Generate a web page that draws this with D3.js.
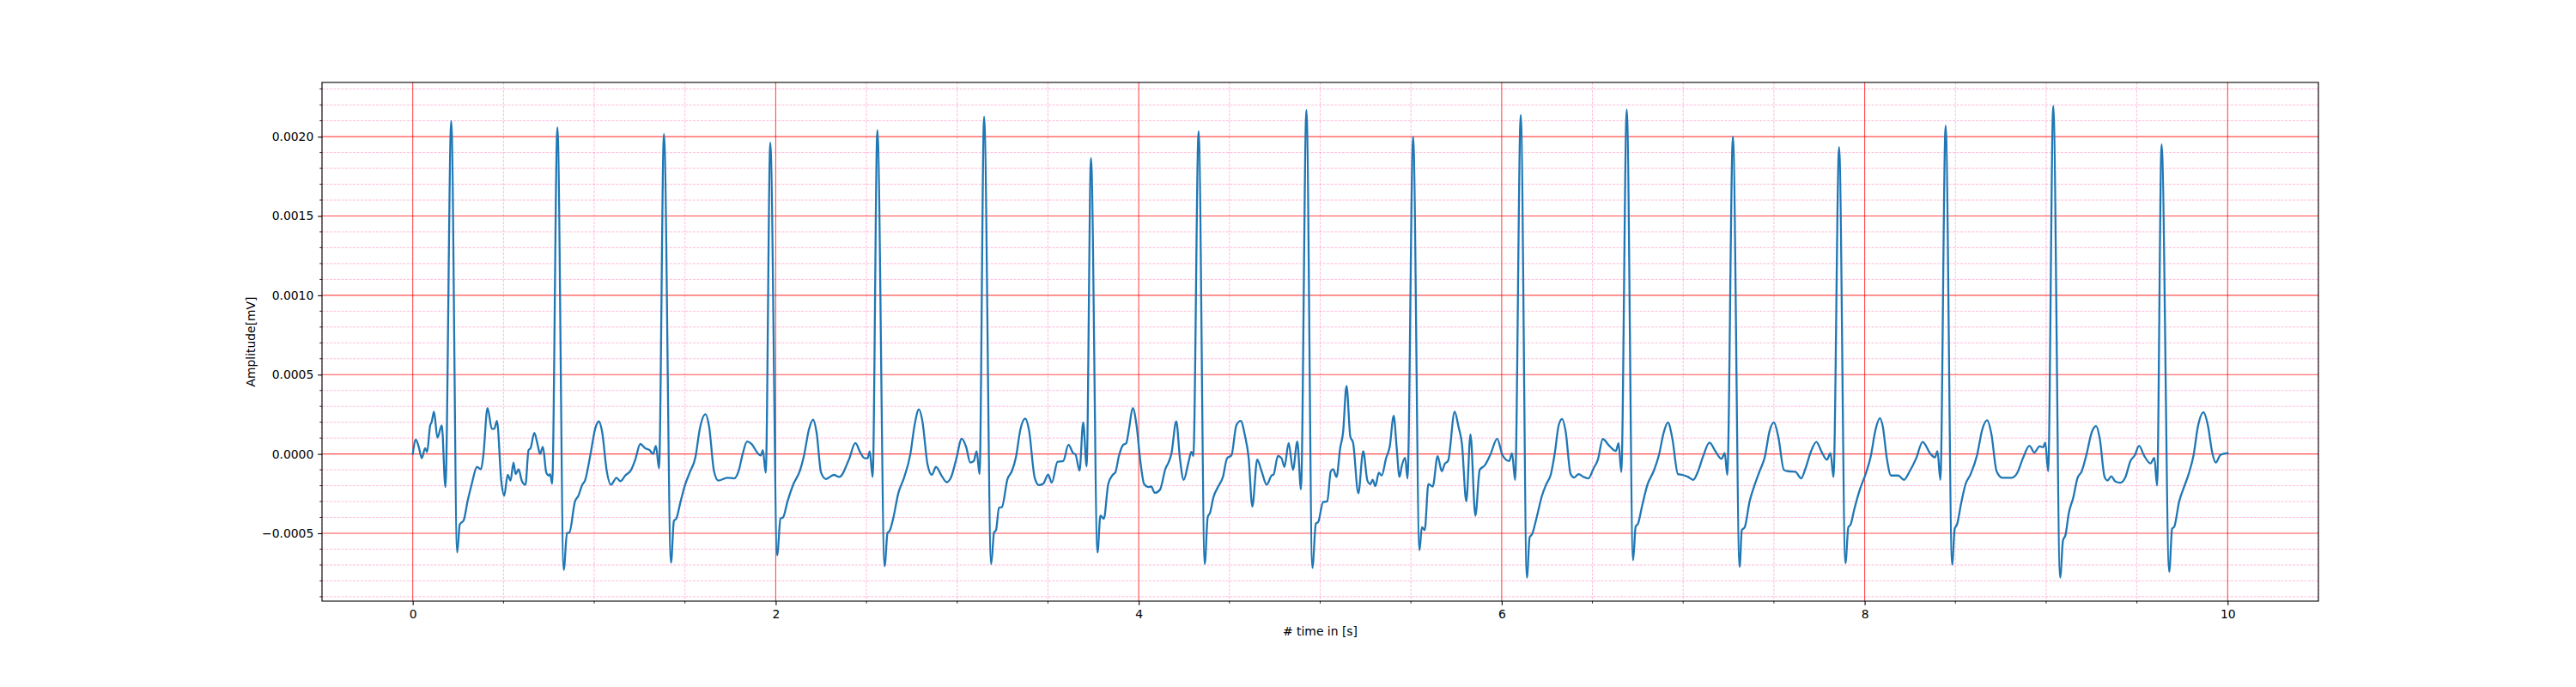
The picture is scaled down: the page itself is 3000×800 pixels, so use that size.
<!DOCTYPE html>
<html>
<head>
<meta charset="utf-8">
<script src="https://cdn.jsdelivr.net/npm/d3@7"></script>
<style>
  html, body { margin: 0; padding: 0; background: #ffffff; }
  svg { display: block; }
  text { font-family: "DejaVu Sans", sans-serif; }
</style>
</head>
<body>
<svg id="chart" width="3000" height="800"></svg>
<script>
// ---- data ----
const timeSec = [
  0.000,0.017,0.033,0.050,0.068,0.079,0.096,0.104,0.117,0.136,0.160,0.180,
  0.212,0.245,0.259,0.281,0.302,0.325,0.354,0.376,0.389,0.412,0.436,0.449,0.464,0.488,0.504,0.523,0.539,0.555,0.567,0.583,0.602,0.621,0.638,0.649,0.670,0.689,0.701,0.717,0.736,0.749,0.757,0.768,
  0.797,0.832,0.850,0.863,0.894,0.913,0.934,0.949,0.981,1.005,1.025,1.044,1.068,1.092,1.123,1.144,1.171,1.202,1.226,1.254,1.281,1.305,1.324,1.340,1.357,
  1.384,1.423,1.439,1.452,1.476,1.502,1.526,1.558,1.581,1.613,1.633,1.660,1.684,1.732,1.771,1.795,1.818,1.842,1.866,1.905,1.918,1.929,1.945,
  1.970,2.008,2.026,2.041,2.065,2.096,2.135,2.156,2.183,2.206,2.225,2.250,2.277,2.320,2.351,2.403,2.439,2.466,2.490,2.506,2.518,2.534,
  2.560,2.600,2.616,2.628,2.647,2.676,2.707,2.742,2.765,2.789,2.808,2.836,2.860,2.883,2.915,2.942,2.965,2.994,3.025,3.049,3.072,3.091,3.107,3.123,
  3.148,3.187,3.203,3.214,3.230,3.246,3.277,3.301,3.324,3.348,3.375,3.395,3.427,3.450,3.474,3.501,3.521,3.553,3.584,3.613,3.639,3.652,3.674,3.694,3.713,
  3.737,3.773,3.789,3.808,3.832,3.857,3.872,3.891,3.915,3.931,3.946,3.967,3.989,4.009,4.030,4.054,4.069,4.088,4.117,4.148,4.164,4.180,4.207,4.227,4.248,4.274,4.290,4.301,
  4.330,4.364,4.380,4.393,4.412,4.437,4.464,4.487,4.511,4.538,4.562,4.585,4.606,4.626,4.653,4.677,4.705,4.732,4.743,4.767,4.787,4.803,4.826,4.850,4.874,4.894,
  4.924,4.957,4.976,4.989,5.016,5.039,5.058,5.071,5.090,5.110,5.126,5.145,5.166,5.181,5.210,5.237,5.260,5.276,5.289,5.304,5.323,5.339,5.363,5.383,5.405,5.421,5.437,5.450,5.468,5.481,
  5.512,5.547,5.560,5.576,5.596,5.620,5.647,5.670,5.686,5.705,5.741,5.762,5.781,5.805,5.828,5.855,5.879,5.907,5.939,5.975,6.005,6.041,6.057,6.074,
  6.105,6.139,6.154,6.167,6.191,6.222,6.246,6.270,6.293,6.314,6.333,6.352,6.380,6.399,6.424,6.451,6.478,6.506,6.530,6.557,6.593,6.629,6.644,6.659,
  6.689,6.724,6.738,6.751,6.774,6.803,6.837,6.866,6.893,6.916,6.940,6.971,6.995,7.027,7.055,7.082,7.109,7.145,7.177,7.211,7.229,7.243,
  7.274,7.311,7.323,7.339,7.366,7.390,7.421,7.450,7.476,7.500,7.524,7.555,7.579,7.618,7.650,7.674,7.702,7.734,7.761,7.792,7.812,7.828,
  7.859,7.894,7.910,7.923,7.942,7.973,8.005,8.033,8.060,8.084,8.100,8.122,8.145,8.185,8.216,8.248,8.284,8.319,8.363,8.387,8.401,8.417,
  8.446,8.482,8.496,8.509,8.532,8.556,8.584,8.619,8.648,8.675,8.698,8.727,8.758,8.809,8.840,8.872,8.908,8.935,8.964,8.983,8.995,9.011,
  9.039,9.077,9.093,9.106,9.125,9.149,9.172,9.196,9.223,9.251,9.275,9.295,9.322,9.338,9.359,9.380,9.409,9.437,9.464,9.488,9.512,9.539,9.575,9.596,9.611,
  9.636,9.678,9.694,9.706,9.733,9.757,9.785,9.812,9.836,9.867,9.891,9.915,9.934,9.962,10.000
];

const amplitudeMv = [
  0,0.9e-4,0.45e-4,-0.27e-4,0.36e-4,0.13e-4,1.8e-4,2.0e-4,2.66e-4,1.03e-4,1.8e-4,-2.08e-4,
  20.99e-4,-6.21e-4,-4.44e-4,-4.17e-4,-2.99e-4,-1.90e-4,-0.82e-4,-0.96e-4,-0.09e-4,2.9e-4,1.58e-4,1.58e-4,2.08e-4,-1.72e-4,-2.63e-4,-1.32e-4,-1.68e-4,-0.54e-4,-1.27e-4,-0.96e-4,-1.72e-4,-1.94e-4,0.24e-4,0.36e-4,1.32e-4,0.54e-4,0,0.45e-4,-1.18e-4,-1.36e-4,-1.27e-4,-1.87e-4,
  20.58e-4,-7.30e-4,-4.98e-4,-4.95e-4,-2.99e-4,-2.63e-4,-1.94e-4,-1.68e-4,0.09e-4,1.58e-4,2.05e-4,1.36e-4,-1.0e-4,-1.94e-4,-1.5e-4,-1.72e-4,-1.36e-4,-1.03e-4,-0.36e-4,0.63e-4,0.36e-4,0.24e-4,0,0.51e-4,-0.91e-4,
  20.16e-4,-6.85e-4,-4.22e-4,-4.08e-4,-2.99e-4,-1.90e-4,-1.18e-4,-0.18e-4,1.54e-4,2.5e-4,1.72e-4,-1.09e-4,-1.68e-4,-1.50e-4,-1.54e-4,-1.09e-4,0,0.78e-4,0.63e-4,0,-0.09e-4,0.24e-4,-1.18e-4,
  19.62e-4,-6.39e-4,-4.08e-4,-3.99e-4,-2.99e-4,-1.94e-4,-1.0e-4,-0.09e-4,1.54e-4,2.17e-4,1.36e-4,-1.18e-4,-1.58e-4,-1.32e-4,-1.45e-4,-0.36e-4,0.69e-4,0.09e-4,-0.27e-4,-0.27e-4,0.16e-4,-1.45e-4,
  20.40e-4,-7.07e-4,-4.98e-4,-4.84e-4,-4.08e-4,-2.45e-4,-1.50e-4,0,1.81e-4,2.81e-4,2.08e-4,-0.63e-4,-1.32e-4,-0.82e-4,-1.39e-4,-1.78e-4,-1.50e-4,-0.36e-4,0.96e-4,0.45e-4,-0.54e-4,-0.45e-4,0.18e-4,-1.27e-4,
  21.25e-4,-6.94e-4,-4.95e-4,-4.80e-4,-3.39e-4,-3.35e-4,-1.58e-4,-1.09e-4,-0.18e-4,1.54e-4,2.23e-4,1.54e-4,-1.50e-4,-1.96e-4,-1.87e-4,-1.30e-4,-1.81e-4,-0.49e-4,-0.45e-4,0.58e-4,0.05e-4,-0.04e-4,-1.05e-4,1.99e-4,-0.78e-4,
  18.64e-4,-6.21e-4,-3.89e-4,-4.08e-4,-1.90e-4,-1.32e-4,-1.14e-4,-0.13e-4,0.58e-4,0.67e-4,1.54e-4,2.9e-4,1.72e-4,-0.45e-4,-1.90e-4,-2.08e-4,-2.05e-4,-2.45e-4,-2.26e-4,-0.91e-4,-0.54e-4,0,2.05e-4,-0.27e-4,-1.63e-4,-0.54e-4,0.13e-4,-0.13e-4,
  20.34e-4,-6.94e-4,-3.99e-4,-3.71e-4,-2.72e-4,-2.08e-4,-1.45e-4,-0.27e-4,-0.09e-4,1.81e-4,2.08e-4,1.18e-4,-0.27e-4,-3.32e-4,-0.36e-4,-1.09e-4,-1.94e-4,-1.36e-4,-1.30e-4,-0.13e-4,-0.27e-4,-0.82e-4,0.69e-4,-1.0e-4,0.78e-4,-2.23e-4,
  21.68e-4,-7.19e-4,-4.40e-4,-4.29e-4,-3.03e-4,-2.99e-4,-1.09e-4,-0.96e-4,-1.45e-4,0.36e-4,1.36e-4,4.29e-4,1.09e-4,0.72e-4,-2.48e-4,0.18e-4,-1.68e-4,-1.90e-4,-1.63e-4,-2.03e-4,-1.18e-4,-1.36e-4,-0.27e-4,0.45e-4,2.41e-4,0.45e-4,-1.45e-4,-0.72e-4,-0.24e-4,-1.54e-4,
  19.98e-4,-6.07e-4,-4.62e-4,-4.80e-4,-1.90e-4,-2.05e-4,-0.14e-4,-1.09e-4,-0.63e-4,-0.42e-4,2.66e-4,1.72e-4,0.63e-4,-2.99e-4,1.23e-4,-3.89e-4,-1.0e-4,-0.72e-4,0,0.96e-4,-0.09e-4,-0.45e-4,0.04e-4,-1.63e-4,
  21.37e-4,-7.79e-4,-5.25e-4,-5.07e-4,-4.08e-4,-2.63e-4,-1.90e-4,-1.32e-4,0.09e-4,1.81e-4,2.21e-4,1.45e-4,-1.27e-4,-1.49e-4,-1.27e-4,-1.45e-4,-1.54e-4,-0.91e-4,-0.36e-4,0.94e-4,0.51e-4,0.18e-4,0.67e-4,-1.14e-4,
  21.70e-4,-6.70e-4,-4.58e-4,-4.40e-4,-3.26e-4,-1.94e-4,-1.09e-4,-0.09e-4,1.36e-4,1.99e-4,1.0e-4,-1.27e-4,-1.32e-4,-1.45e-4,-1.63e-4,-1.09e-4,-0.18e-4,0.72e-4,0.18e-4,-0.31e-4,0.05e-4,-1.32e-4,
  20.0e-4,-7.12e-4,-4.80e-4,-4.62e-4,-2.99e-4,-2.08e-4,-1.09e-4,-0.18e-4,1.45e-4,1.99e-4,1.09e-4,-1.0e-4,-1.09e-4,-1.12e-4,-1.54e-4,-0.91e-4,0.09e-4,0.76e-4,0.18e-4,-0.36e-4,0.05e-4,-1.45e-4,
  19.33e-4,-6.88e-4,-4.62e-4,-4.44e-4,-3.53e-4,-2.26e-4,-1.27e-4,-0.18e-4,1.54e-4,2.26e-4,1.72e-4,-0.27e-4,-1.36e-4,-1.36e-4,-1.63e-4,-1.09e-4,-0.27e-4,0.76e-4,0,-0.22e-4,0.18e-4,-1.63e-4,
  20.69e-4,-6.97e-4,-4.71e-4,-4.44e-4,-3.08e-4,-1.90e-4,-1.27e-4,-0.09e-4,1.54e-4,2.12e-4,1.27e-4,-1.09e-4,-1.50e-4,-1.50e-4,-1.21e-4,-0.27e-4,0.51e-4,0.09e-4,0.49e-4,0.42e-4,0.72e-4,-1.09e-4,
  21.93e-4,-7.79e-4,-5.43e-4,-5.13e-4,-3.71e-4,-2.77e-4,-1.54e-4,-1.09e-4,0,1.36e-4,1.76e-4,1.0e-4,-1.45e-4,-1.67e-4,-1.41e-4,-1.72e-4,-1.81e-4,-1.45e-4,-0.45e-4,-0.09e-4,0.51e-4,-0.09e-4,-0.60e-4,-0.24e-4,-1.99e-4,
  19.51e-4,-7.43e-4,-4.71e-4,-4.58e-4,-2.99e-4,-2.17e-4,-1.27e-4,-0.09e-4,1.72e-4,2.63e-4,1.81e-4,0.09e-4,-0.54e-4,-0.05e-4,0.05e-4
];

const xTickValues = [0, 2, 4, 6, 8, 10];
const yTickValues = [-0.0005, 0.0000, 0.0005, 0.0010, 0.0015, 0.0020];
const xLabel = "# time in [s]";
const yLabel = "Amplitude[mV]";

// ---- layout ----
const plot = { left: 375, right: 2700, top: 96, bottom: 700 };
const series = timeSec.map((t, i) => ({ t: t, v: amplitudeMv[i] }));

const xExt = d3.extent(series, d => d.t);
const yExt = d3.extent(series, d => d.v);
const xPad = (xExt[1] - xExt[0]) * 0.05;
const yPad = (yExt[1] - yExt[0]) * 0.05;

const x = d3.scaleLinear().domain([xExt[0] - xPad, xExt[1] + xPad]).range([plot.left, plot.right]);
const y = d3.scaleLinear().domain([yExt[0] - yPad, yExt[1] + yPad]).range([plot.bottom, plot.top]);

const svg = d3.select("#chart");
svg.append("rect").attr("width", 3000).attr("height", 800).attr("fill", "#ffffff");

// minor tick positions (x every 0.5, y every 0.0001)
const xMinor = d3.range(Math.ceil(x.domain()[0] / 0.5), Math.floor(x.domain()[1] / 0.5) + 1)
  .map(k => k * 0.5).filter(v => Math.abs(v / 2 - Math.round(v / 2)) > 1e-9);
const yMinor = d3.range(Math.ceil(y.domain()[0] / 0.0001), Math.floor(y.domain()[1] / 0.0001) + 1)
  .map(k => k * 0.0001).filter(v => Math.abs(v / 0.0005 - Math.round(v / 0.0005)) > 1e-6);

const grid = svg.append("g");
// minor grid
grid.selectAll("line.xminor").data(xMinor).join("line")
  .attr("x1", d => x(d)).attr("x2", d => x(d))
  .attr("y1", plot.top).attr("y2", plot.bottom)
  .attr("stroke", "#ff69b4").attr("stroke-opacity", 0.45)
  .attr("stroke-width", 1).attr("stroke-dasharray", "3,1.5");
grid.selectAll("line.yminor").data(yMinor).join("line")
  .attr("x1", plot.left).attr("x2", plot.right)
  .attr("y1", d => y(d)).attr("y2", d => y(d))
  .attr("stroke", "#ff69b4").attr("stroke-opacity", 0.45)
  .attr("stroke-width", 1).attr("stroke-dasharray", "3,1.5");
// major grid
grid.selectAll("line.xmajor").data(xTickValues).join("line")
  .attr("x1", d => x(d)).attr("x2", d => x(d))
  .attr("y1", plot.top).attr("y2", plot.bottom)
  .attr("stroke", "#ff0000").attr("stroke-opacity", 0.7).attr("stroke-width", 1.1);
grid.selectAll("line.ymajor").data(yTickValues).join("line")
  .attr("x1", plot.left).attr("x2", plot.right)
  .attr("y1", d => y(d)).attr("y2", d => y(d))
  .attr("stroke", "#ff0000").attr("stroke-opacity", 0.7).attr("stroke-width", 1.1);

// signal
const line = d3.line().x(d => x(d.t)).y(d => y(d.v)).curve(d3.curveMonotoneX);
svg.append("path").datum(series)
  .attr("d", line)
  .attr("fill", "none")
  .attr("stroke", "#1f77b4")
  .attr("stroke-width", 2.3)
  .attr("stroke-linejoin", "round")
  .attr("stroke-linecap", "square");

// axes
const fmtY = d3.format(".4f");
const xAxis = d3.axisBottom(x).tickValues(xTickValues).tickFormat(d3.format("d"))
  .tickSize(4.86).tickPadding(4.86);
const yAxis = d3.axisLeft(y).tickValues(yTickValues).tickFormat(fmtY)
  .tickSize(4.86).tickPadding(4.86);

const gx = svg.append("g").attr("transform", `translate(0,${plot.bottom})`).call(xAxis);
const gy = svg.append("g").attr("transform", `translate(${plot.left},0)`).call(yAxis);
[gx, gy].forEach(g => {
  g.select(".domain").remove();
  g.selectAll(".tick line").attr("stroke", "#000").attr("stroke-width", 1.1);
  g.selectAll(".tick text").attr("fill", "#000").style("font-size", "13.9px")
    .style("font-family", "'DejaVu Sans', sans-serif");
});

// minor ticks
svg.append("g").selectAll("line").data(xMinor.filter(d => d > x.domain()[0] + 1e-9 && d < x.domain()[1] - 1e-9)).join("line")
  .attr("x1", d => x(d)).attr("x2", d => x(d))
  .attr("y1", plot.bottom).attr("y2", plot.bottom + 2.78)
  .attr("stroke", "#000").attr("stroke-width", 0.83);
svg.append("g").selectAll("line").data(yMinor).join("line")
  .attr("x1", plot.left - 2.78).attr("x2", plot.left)
  .attr("y1", d => y(d)).attr("y2", d => y(d))
  .attr("stroke", "#000").attr("stroke-width", 0.83);

// frame
svg.append("rect")
  .attr("x", plot.left).attr("y", plot.top)
  .attr("width", plot.right - plot.left).attr("height", plot.bottom - plot.top)
  .attr("fill", "none").attr("stroke", "#000").attr("stroke-width", 1.1);

// labels
svg.append("text")
  .attr("x", (plot.left + plot.right) / 2).attr("y", 740)
  .attr("text-anchor", "middle").style("font-size", "13.9px").attr("fill", "#000")
  .text(xLabel);
svg.append("text")
  .attr("transform", `translate(297,${(plot.top + plot.bottom) / 2}) rotate(-90)`)
  .attr("text-anchor", "middle").style("font-size", "13.9px").attr("fill", "#000")
  .text(yLabel);
</script>
</body>
</html>
